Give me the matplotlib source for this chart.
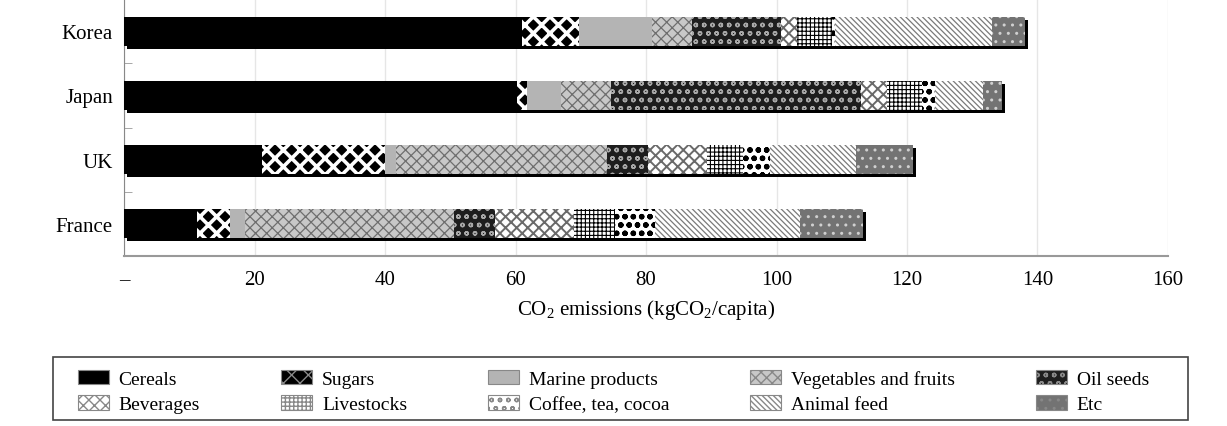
import matplotlib.pyplot as plt
from matplotlib import transforms
from matplotlib.patches import Rectangle

plt.rcParams['font.family'] = ['Liberation Serif', 'DejaVu Serif']
plt.rcParams['mathtext.fontset'] = 'custom'
plt.rcParams['mathtext.rm'] = 'Liberation Serif'
plt.rcParams['mathtext.it'] = 'Liberation Serif:italic'

countries = ['France', 'UK', 'Japan', 'Korea']
categories = ['Cereals', 'Sugars', 'Marine products', 'Vegetables and fruits', 'Oil seeds',
              'Beverages', 'Livestocks', 'Coffee, tea, cocoa', 'Animal feed', 'Etc']

# kgCO2/capita, in the order of countries (France, UK, Japan, Korea)
cereals = [11.2, 21.1, 60.2, 61.0]
sugars = [5.1, 18.9, 1.5, 8.7]
marine = [2.2, 1.7, 5.3, 11.2]
vegetables = [32.0, 32.3, 7.7, 6.1]
oil_seeds = [6.4, 6.3, 38.3, 13.7]
beverages = [12.0, 9.0, 3.9, 2.4]
livestocks = [6.3, 5.6, 5.4, 5.4]
coffee = [6.2, 4.1, 2.0, 0.4]
animal_feed = [22.2, 13.2, 7.3, 24.1]
etc = [9.7, 8.7, 3.0, 5.1]

x_ticks = [0, 20, 40, 60, 80, 100, 120, 140, 160]
x_tick_labels = ['–', '20', '40', '60', '80', '100', '120', '140', '160']

series = [cereals, sugars, marine, vegetables, oil_seeds,
          beverages, livestocks, coffee, animal_feed, etc]

# face colour, hatch colour, hatch, hatch linewidth
styles = [
    ('black', 'black', None, 1.0),
    ('black', 'white', 'xx', 2.6),
    ('#b4b4b4', '#b4b4b4', None, 1.0),
    ('#c8c8c8', '#6e6e6e', 'xxx', 0.9),
    ('#1e1e1e', '#a8a8a8', 'oo', 1.0),
    ('white', '#6a6a6a', 'xxx', 1.4),
    ('white', 'black', '++++', 0.8),
    ('white', 'black', 'oo', 1.6),
    ('white', '#7a7a7a', '\\\\\\\\\\\\', 0.9),
    ('#737373', '#d0d0d0', '..', 1.0),
]

fig = plt.figure(figsize=(12.27, 4.27), dpi=100)
ax = fig.add_axes([0.1011, 0.398, 0.8508, 0.602])

ypos = list(range(len(countries)))
bar_h = 0.45
totals = [sum(s[i] for s in series) for i in ypos]

# drop shadow behind each stacked bar
shadow = ax.barh(ypos, totals, height=bar_h, color='black', zorder=2)
off = transforms.offset_copy(ax.transData, fig=fig, x=3, y=-3, units='dots')
for p in shadow:
    p.set_transform(off)

left = [0.0] * len(countries)
handles = []
for name, vals, (fc, hc, hatch, hlw) in zip(categories, series, styles):
    with plt.rc_context({'hatch.linewidth': hlw}):
        bars = ax.barh(ypos, vals, left=left, height=bar_h, facecolor=fc,
                       edgecolor=hc, hatch=hatch, linewidth=0, label=name, zorder=3)
    for p in bars:
        if hasattr(p, 'set_hatch_linewidth'):
            p.set_hatch_linewidth(hlw)
    handles.append(bars)
    left = [a + b for a, b in zip(left, vals)]

ax.set_xlim(0, 160)
ax.set_ylim(-0.5, 3.5)
ax.set_xticks(x_ticks)
ax.set_xticklabels(x_tick_labels, fontsize=15)
ax.set_yticks(ypos)
ax.set_yticklabels(countries, fontsize=15)
ax.set_yticks([-0.5, 0.5, 1.5, 2.5, 3.5], minor=True)
ax.tick_params(axis='x', length=0, pad=10)
ax.tick_params(axis='y', which='major', length=0, pad=8)
ax.tick_params(axis='y', which='minor', direction='in', length=6, color='#999999')
ax.grid(axis='x', color='#e6e6e6', linewidth=1)
ax.set_axisbelow(True)
for s in ['top', 'right']:
    ax.spines[s].set_visible(False)
ax.spines['left'].set_color('#888888')
ax.spines['bottom'].set_color('#999999')
ax.spines['bottom'].set_linewidth(1.5)

ax.set_xlabel('CO$_{\\mathrm{2}}$ emissions (kgCO$_{\\mathrm{2}}$/capita)', fontsize=15, labelpad=6)

# legend box drawn separately so the entries can sit off-centre inside it
fig.patches.append(Rectangle((0.043, 0.014), 0.925, 0.148, transform=fig.transFigure,
                             fill=False, edgecolor='#444444', linewidth=1.2))

# legend reads row by row in the reference: reorder for matplotlib's column filling
order = [0, 5, 1, 6, 2, 7, 3, 8, 4, 9]
leg = fig.legend(handles=[handles[i] for i in order], labels=[categories[i] for i in order],
                 ncol=5, loc='lower left',
                 bbox_to_anchor=(0.0635, 0.03, 0.873, 0.12), mode='expand',
                 fontsize=14, frameon=False,
                 handlelength=1.6, handleheight=0.75, handletextpad=0.5,
                 labelspacing=0.4, borderaxespad=0, borderpad=0)
for h in leg.legend_handles:
    h.set_linewidth(0.8)
    h.set_edgecolor('#888888')

fig.savefig('out.png', dpi=100)
